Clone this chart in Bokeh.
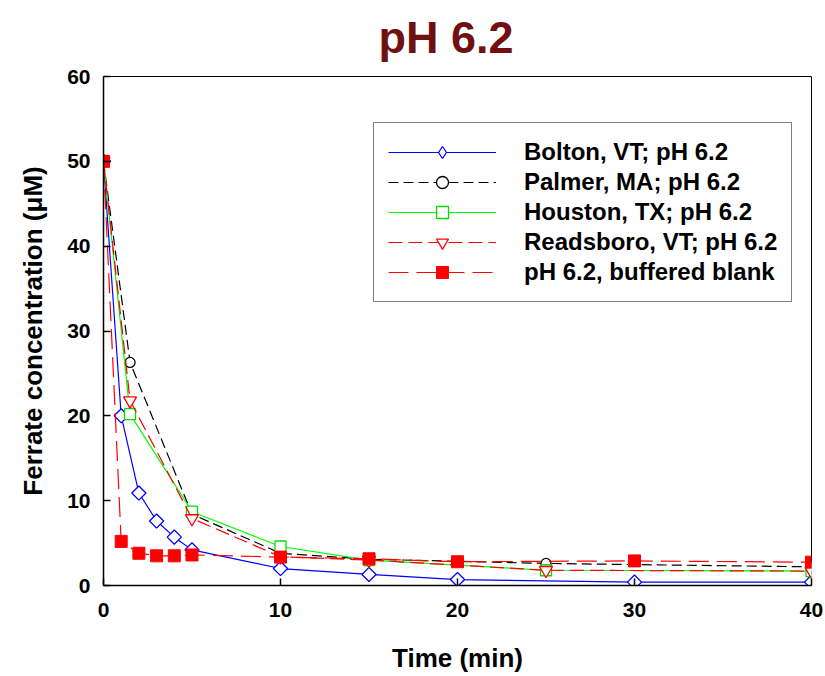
import numpy as np
from bokeh.plotting import figure
from bokeh.models import Legend, LegendItem, FixedTicker, Range1d, Title
from bokeh.embed import file_html
from bokeh.resources import INLINE

# ---- data ----
t_bolton = [0, 1, 2, 3, 4, 5, 10, 15, 20, 30, 40]
c_bolton = [50, 20.0, 10.9, 7.6, 5.7, 4.2, 2.0, 1.3, 0.7, 0.4, 0.4]

t_palmer = [0, 1.5, 5, 10, 15, 25, 40]
c_palmer = [50, 26.3, 8.4, 3.8, 3.1, 2.6, 2.2]

t_houston = [0, 1.5, 5, 10, 15, 25, 40]
c_houston = [50, 20.2, 8.7, 4.6, 3.0, 1.8, 1.7]

t_reads = [0, 1.5, 5, 10, 15, 25, 40]
c_reads = [50, 21.8, 7.9, 3.4, 3.0, 1.8, 1.7]

t_blank = [0, 1, 2, 3, 4, 5, 10, 15, 20, 30, 40]
c_blank = [50, 5.2, 3.8, 3.5, 3.5, 3.6, 3.35, 3.15, 2.8, 2.9, 2.75]

x_ticks = [0, 10, 20, 30, 40]
y_ticks = [0, 10, 20, 30, 40, 50, 60]

labels = ["Bolton, VT; pH 6.2", "Palmer, MA; pH 6.2", "Houston, TX; pH 6.2",
          "Readsboro, VT; pH 6.2", "pH 6.2, buffered blank"]
title_text = "pH 6.2"

FONT = "Liberation Sans"

p = figure(width=825, height=676, x_range=Range1d(0, 40), y_range=Range1d(0, 60),
           output_backend="svg", toolbar_location=None,
           min_border_left=103, min_border_right=14, min_border_top=76, min_border_bottom=91)

p.title = Title(text=title_text, align="left", vertical_align="top",
                text_font_size="45px", text_color="#701010",
                text_font=FONT, text_font_style="bold", standoff=23, offset=275)

p.background_fill_color = "white"
p.border_fill_color = "white"
p.outline_line_color = "black"
p.outline_line_width = 1
p.grid.visible = False

for ax in (p.xaxis[0], p.yaxis[0]):
    ax.axis_line_color = "black"
    ax.axis_line_width = 1.5
    ax.major_tick_in = 7
    ax.major_tick_out = 0
    ax.major_tick_line_width = 1.5
    ax.minor_tick_in = 0
    ax.minor_tick_out = 0
    ax.major_label_text_font = FONT
    ax.major_label_text_font_style = "bold"
    ax.major_label_text_font_size = "21px"
    ax.major_label_text_color = "black"
    ax.axis_label_text_font = FONT
    ax.axis_label_text_font_style = "bold"
    ax.axis_label_text_font_size = "26px"
    ax.axis_label_text_color = "black"

p.xaxis.ticker = FixedTicker(ticks=x_ticks)
p.yaxis.ticker = FixedTicker(ticks=y_ticks)
p.xaxis.axis_label = "Time (min)"
p.yaxis.axis_label = "Ferrate concentration (μM)"
p.xaxis.major_label_standoff = 17
p.yaxis.major_label_standoff = 13
p.xaxis.axis_label_standoff = 23
p.yaxis.axis_label_standoff = 16

# ---- series ----
l1 = p.line(t_bolton, c_bolton, line_color="#0000FF", line_width=1.2)
# legend swatch for the diamond marker (hidden under the rotated squares)
s1_key = p.scatter(t_bolton, c_bolton, marker="diamond", size=12,
                   line_color="#0000FF", fill_color="white", line_width=1.3)
s1 = p.scatter(t_bolton, c_bolton, marker="square", angle=np.pi / 4, size=10,
               line_color="#0000FF", fill_color="white", line_width=1.3)

l2 = p.line(t_palmer, c_palmer, line_color="black", line_width=1.2, line_dash="10 5")
s2 = p.scatter(t_palmer, c_palmer, marker="circle", size=10,
               line_color="black", fill_color="white", line_width=1.3)

l3 = p.line(t_houston, c_houston, line_color="#00FF00", line_width=1.2)
s3 = p.scatter(t_houston, c_houston, marker="square", size=11,
               line_color="#00DD00", fill_color="white", line_width=1.3)

l4 = p.line(t_reads, c_reads, line_color="#FF0000", line_width=1.2, line_dash="14 6")
s4 = p.scatter(t_reads, c_reads, marker="inverted_triangle", size=13,
               line_color="#FF0000", fill_color="white", line_width=1.3)

l5 = p.line(t_blank, c_blank, line_color="#FF0000", line_width=1.2, line_dash="20 8")
s5 = p.scatter(t_blank, c_blank, marker="square", size=12,
               line_color="#FF0000", fill_color="#FF0000")

items = [LegendItem(label=labels[0], renderers=[l1, s1_key]),
         LegendItem(label=labels[1], renderers=[l2, s2]),
         LegendItem(label=labels[2], renderers=[l3, s3]),
         LegendItem(label=labels[3], renderers=[l4, s4]),
         LegendItem(label=labels[4], renderers=[l5, s5])]

legend = Legend(items=items, location=(270, 283),
                border_line_color="black", border_line_width=1,
                background_fill_color="white", background_fill_alpha=1,
                label_text_font=FONT, label_text_font_style="bold",
                label_text_font_size="24px", label_text_color="black",
                glyph_width=108, glyph_height=30, label_height=30,
                label_standoff=28, padding=14, spacing=0, margin=0)
p.add_layout(legend)

open("out.html", "w").write(file_html(p, INLINE))
